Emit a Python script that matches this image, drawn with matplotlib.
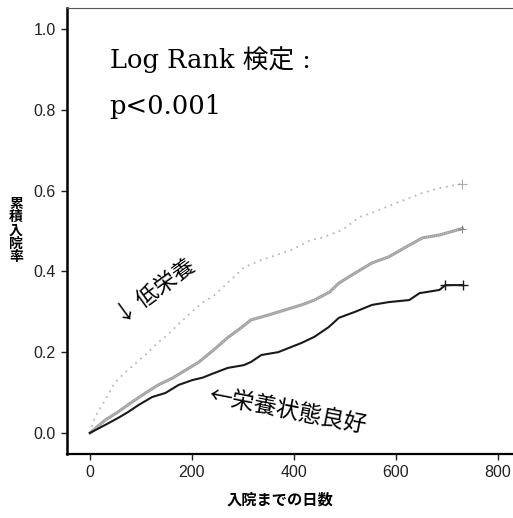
import matplotlib
matplotlib.use("Agg")
import matplotlib.pyplot as plt

# ---- data ----
good_t = [0, 30, 55, 75, 95, 122, 148, 174, 201, 221, 243, 270, 302, 316, 336, 369, 389,
          415, 440, 468, 488, 520, 553, 586, 626, 646, 685, 697, 731]
good_y = [0, 0.020, 0.037, 0.052, 0.069, 0.089, 0.099, 0.119, 0.131, 0.137, 0.148, 0.161,
          0.168, 0.176, 0.193, 0.200, 0.210, 0.223, 0.238, 0.262, 0.285, 0.300, 0.317,
          0.324, 0.329, 0.346, 0.354, 0.366, 0.366]

mid_t = [0, 30, 55, 83, 109, 134, 162, 188, 213, 243, 270, 296, 316, 350, 381, 415, 440,
         470, 488, 520, 553, 586, 619, 652, 685, 730]
mid_y = [0, 0.032, 0.052, 0.077, 0.099, 0.119, 0.136, 0.156, 0.175, 0.206, 0.236, 0.260,
         0.280, 0.292, 0.304, 0.317, 0.329, 0.349, 0.371, 0.396, 0.421, 0.436, 0.460,
         0.483, 0.490, 0.506]

low_t = [0, 10, 30, 49, 69, 89, 110, 130, 154, 178, 200, 220, 243, 260, 273, 302, 336,
         355, 395, 434, 454, 494, 529, 553, 606, 652, 685, 730]
low_y = [0, 0.040, 0.082, 0.125, 0.150, 0.172, 0.195, 0.220, 0.245, 0.275, 0.300, 0.322,
         0.340, 0.360, 0.375, 0.410, 0.428, 0.436, 0.453, 0.478, 0.483, 0.502, 0.535,
         0.545, 0.572, 0.594, 0.606, 0.617]

x_ticks = [0, 200, 400, 600, 800]
y_ticks = [0.0, 0.2, 0.4, 0.6, 0.8, 1.0]

cjk = ['Noto Sans CJK JP', 'DejaVu Sans']
serif = ['DejaVu Serif', 'Noto Sans CJK JP']

fig = plt.figure(figsize=(5.13, 5.18), dpi=100)
ax = fig.add_axes([0.1306, 0.1236, 0.875, 0.861])

ax.plot(low_t, low_y, color='#b8b8b8', lw=1.3, linestyle=(0, (1, 2.6)))
ax.plot(mid_t, mid_y, color='#a0a0a0', lw=2.2)
ax.plot(mid_t, mid_y, color='#d8d8d8', lw=0.6, linestyle=(0, (1, 1.5)))
ax.plot(good_t, good_y, color='#1a1a1a', lw=1.5)
ax.plot([low_t[-1]], [low_y[-1]], marker='+', color='#aaaaaa', ms=7, mew=0.8)
ax.plot([mid_t[-1]], [mid_y[-1]], marker='+', color='#888888', ms=6, mew=0.8)
ax.plot([good_t[-1], good_t[-2]], [good_y[-1], good_y[-2]], ls='none', marker='+',
        color='#1a1a1a', ms=7, mew=1.0)

ax.set_xlim(-45, 835)
ax.set_ylim(-0.052, 1.052)
ax.set_xticks(x_ticks)
ax.set_xticklabels([str(v) for v in x_ticks])
ax.set_yticks(y_ticks)
ax.set_yticklabels([f"{v:.1f}" for v in y_ticks])
ax.tick_params(direction='out', length=4, width=1, labelsize=11.5, colors='#222222',
               pad=4)
for lab in ax.get_xticklabels() + ax.get_yticklabels():
    lab.set_family(['Liberation Sans Narrow', 'Liberation Sans'])

ax.spines['right'].set_visible(False)
ax.spines['top'].set_color('#555555')
ax.spines['top'].set_linewidth(0.8)
ax.spines['left'].set_linewidth(1.8)
ax.spines['bottom'].set_linewidth(1.6)

ax.text(0.095, 0.885, "Log Rank 検定 :", transform=ax.transAxes, fontsize=18.5,
        family=serif, va='center', ha='left')
ax.text(0.095, 0.78, "p<0.001", transform=ax.transAxes, fontsize=18.5,
        family=serif, va='center', ha='left')

ax.text(127, 0.35, "↓ 低栄養", fontsize=16, family=cjk, rotation=36,
        ha='center', va='center', rotation_mode='anchor')
ax.text(388, 0.055, "←栄養状態良好", fontsize=16.5, family=cjk, rotation=-11,
        ha='center', va='center', rotation_mode='anchor')

fig.text(0.031, 0.555, "累\n積\n入\n院\n率", fontsize=10, family=cjk, fontweight='bold',
         ha='center', va='center', linespacing=0.95)
fig.text(0.545, 0.035, "入院までの日数", fontsize=11, family=cjk, fontweight='bold',
         ha='center', va='center')

fig.savefig("out.png", dpi=100)
